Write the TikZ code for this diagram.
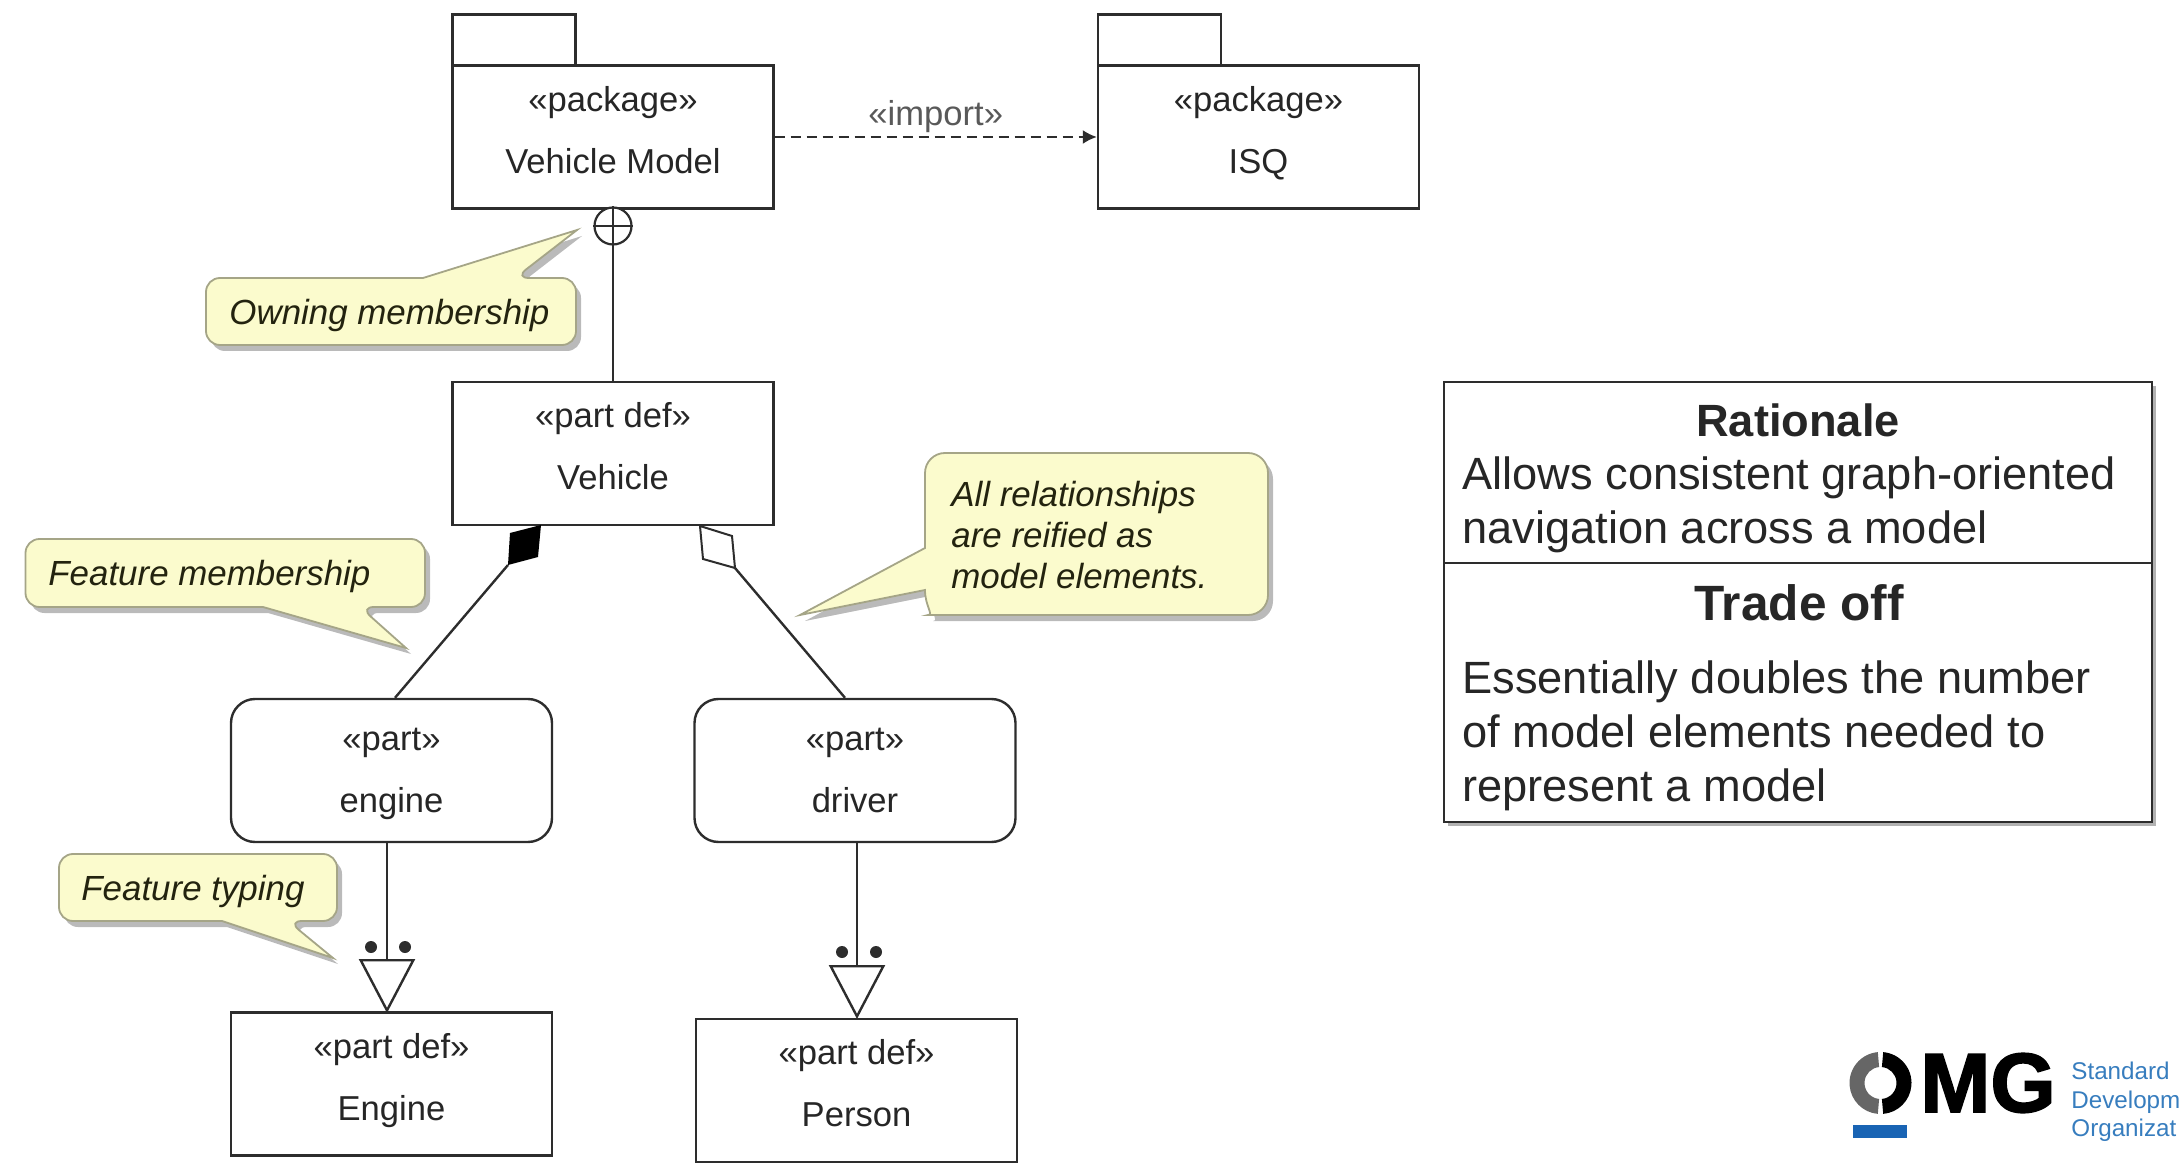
\documentclass[tikz,border=0pt]{standalone}
\usepackage{fontspec}
\setmainfont{Liberation Sans}
\newfontfamily\omgfont[BoldFeatures={FakeBold=2}]{Liberation Sans}
\usetikzlibrary{arrows.meta,shadows}
\definecolor{umlline}{RGB}{45,45,45}
\definecolor{notefill}{RGB}{251,251,205}
\definecolor{noteline}{RGB}{165,165,135}
\definecolor{notetext}{RGB}{35,35,15}
\definecolor{omgblue}{RGB}{25,100,180}
\definecolor{omgtext}{RGB}{55,125,190}
\tikzset{
    umlbox/.style={draw=umlline, line width=1.2pt, fill=white, minimum width=160.5pt, minimum height=71.5pt,
        inner sep=0pt, align=center, text=black!85, font=\fontsize{17.3}{31}\selectfont, text depth=7.5pt},
    usagebox/.style={umlbox, rounded corners=12pt, text depth=-0.6pt},
    tabbox/.style={draw=umlline, line width=1.2pt, fill=white, minimum width=61.5pt, minimum height=25.5pt, inner sep=0pt},
    notebox/.style={draw=noteline, line width=0.9pt, fill=notefill,
        drop shadow={shadow xshift=2.5pt, shadow yshift=-3pt, fill=black!60, opacity=0.45}},
    notetxt/.style={font=\fontsize{17.45}{20.5}\selectfont\itshape, text=notetext, align=left, anchor=west, inner sep=0pt},
    sidetxt/.style={font=\fontsize{22.6}{27}\selectfont, text=black!85, align=left, anchor=west, inner sep=0pt},
    sidehead/.style={font=\fontsize{22.6}{27}\selectfont\bfseries, text=black!85, inner sep=0pt},
    umledge/.style={draw=umlline, line width=1.2pt},
    typing/.style={umledge, -{Triangle[open, fill=white, length=27pt, width=28pt]}},
}
\begin{document}
\begin{tikzpicture}[x=0.5pt, y=-0.5pt]
    \useasboundingbox (0,0) rectangle (2180,1176);
    % Packages
    \foreach \x/\tabx/\name/\word in {613/514/vmodel/Vehicle Model, 1258.5/1159.5/isq/ISQ} {
        \node[tabbox] (tab\name) at (\tabx, 40) {};
        \node[umlbox] (\name) at (\x, 137) {«package»\\\word};
    }
    \draw[umledge, line width=1pt, dashed, dash pattern=on 5pt off 3pt, -{Latex[length=7pt, width=7pt]}] (vmodel) -- (isq)
        node[midway, above=1.5pt, font=\fontsize{17.3}{20}\selectfont, text=black!65, inner sep=0pt] (importlbl) {«import»};
    % Definitions and usages
    \node[umlbox] (vehicle) at (613, 453.5) {«part def»\\Vehicle};
    \node[usagebox] (engine) at (391.5, 770.5) {«part»\\engine};
    \node[usagebox] (driver) at (855, 770.5) {«part»\\driver};
    \node[umlbox] (enginedef) at (391.5, 1084) {«part def»\\Engine};
    \node[umlbox] (persondef) at (856.5, 1090.5) {«part def»\\Person};
    % Owning membership
    \node[draw=umlline, line width=1.1pt, circle, fill=white, minimum size=18.5pt, inner sep=0pt] (own) at (613, 226) {};
    \draw[umledge, line width=0.9pt] (own.north) -- (own.south);
    \draw[umledge, line width=0.9pt] (own.west) -- (own.east);
    \draw[umledge] (own) -- (own |- vehicle.north);
    % Feature membership
    \coordinate (blackend) at (508, 565);
    \coordinate (openend) at (735, 568);
    \fill[black] (541,525) -- (510,533) -- (blackend) -- (538,557) -- cycle;
    \draw[umledge, fill=white, line width=1pt] (700,526) -- (732,536) -- (openend) -- (703,559) -- cycle;
    \draw[umledge] (blackend) -- ([xshift=1.75pt]engine.north);
    \draw[umledge] (openend) -- ([xshift=-5pt]driver.north);
    % Feature typing
    \coordinate (enginetip) at (387, 1013);
    \coordinate (persontip) at (857, 1019);
    \draw[typing] (enginetip |- engine.south) -- (enginetip);
    \draw[typing] (persontip |- driver.south) -- (persontip);
    \foreach \x/\y/\n in {371/947/a, 405/947/b, 842/952/c, 876/952/d} {
        \node[circle, fill=umlline, minimum size=6pt, inner sep=0pt] (dot\n) at (\x, \y) {};
    }
    % Notes
    \draw[notebox, rounded corners=7pt] (423,278) -- (206,278) -- (206,345) -- (576,345) -- (576,278) -- (515,278)
        [sharp corners] -- (577,230) -- cycle;
    \node[notetxt] (noteown) at (229, 315) {Owning membership};
    \draw[notebox, rounded corners=7pt] (263,607) -- (25.5,607) -- (25.5,539) -- (425,539) -- (425,607) -- (360,607)
        [sharp corners] -- (406,648) -- cycle;
    \node[notetxt] (notefeat) at (48, 576) {Feature membership};
    \draw[notebox, rounded corners=7pt] (222,921) -- (59,921) -- (59,854) -- (337,854) -- (337,921) -- (288,921)
        [sharp corners] -- (333,958) -- cycle;
    \node[notetxt] (notetype) at (81, 891) {Feature typing};
    \draw[notebox, rounded corners=10pt] (925,548) -- (925,453) -- (1268,453) -- (1268,615) -- (948,615)
        [sharp corners] .. controls (934,615) and (925,606) .. (925,590) -- (800,615) -- cycle;
    \node[notetxt] (noteall) at (951, 535) {All relationships\\are reified as\\model elements.};
    % Rationale panel
    \node[draw=umlline, line width=1pt, fill=white, minimum width=354pt, minimum height=220pt, inner sep=0pt,
        drop shadow={shadow xshift=2pt, shadow yshift=-2pt, fill=black!60, opacity=0.5}] (panel) at (1798, 602) {};
    \coordinate (panelcut) at (1444, 563);
    \draw[umledge, line width=0.8pt] (panelcut) -- (panelcut -| panel.east);
    \node[sidehead] (rationale) at (1798, 420) {Rationale};
    \node[sidetxt] (rationaletxt) at (1462, 505) {Allows consistent graph-oriented\\navigation across a model};
    \node[sidehead, font=\fontsize{24.8}{27}\selectfont\bfseries] (tradeoff) at (1799, 603) {Trade off};
    \node[sidetxt] (tradeofftxt) at (1462, 736) {Essentially doubles the number\\of model elements needed to\\represent a model};
    % Logo
    \begin{scope}[shift={(1880.5,1083)}]
        \fill[black!60] (265:31) arc (265:95:31) -- (95:16) arc (95:265:16) -- cycle;
        \fill[black] (-85:31) arc (-85:85:31) -- (85:16) arc (85:-85:16) -- cycle;
    \end{scope}
    \node[font=\omgfont\fontsize{42}{42}\selectfont\bfseries, text=black, inner sep=0pt, anchor=west] (omg) at (1920, 1083) {MG};
    \fill[omgblue] (1853,1125) rectangle (1907,1138);
    \node[font=\fontsize{12.1}{14.2}\selectfont, text=omgtext, align=left, anchor=west, inner sep=0pt] (sdo) at (2071, 1102)
        {Standard\\Developm\\Organizat};
\end{tikzpicture}
\end{document}
